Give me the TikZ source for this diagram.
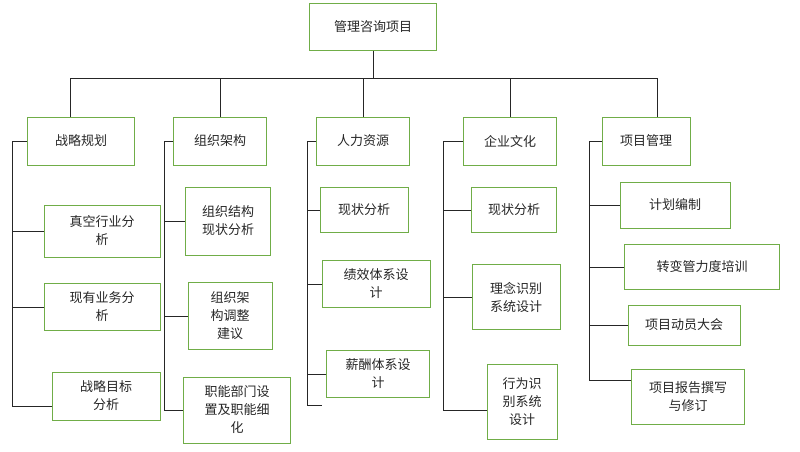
\documentclass[tikz,border=0pt]{standalone}
\usepackage{fontspec}
\newfontfamily\cjk{Noto Sans CJK SC}
\usetikzlibrary{positioning, calc}
\definecolor{boxgreen}{RGB}{112,173,71}

\begin{document}
\begin{tikzpicture}[
  x=1pt, y=-1pt,
  box/.style  = {draw=boxgreen, thick, align=center, inner sep=2pt,
                 font=\cjk\fontsize{13}{18}\selectfont, text=black!85},
  line/.style = {thick, black!85}
]
\useasboundingbox (0,0) rectangle (800,451);

%--------------------------------------------------
% root and categories
%--------------------------------------------------
\node[box, minimum width=127pt, minimum height=47pt] (root) at (373,27) {管理咨询项目};

\node[box, minimum width=107pt, minimum height=48pt] (c1) at (81,141) {战略规划};
\node[box, minimum width=93pt, minimum height=48pt] (c2) at (220,141) {组织架构};
\node[box, minimum width=93pt, minimum height=48pt] (c3) at (363,141) {人力资源};
\node[box, minimum width=93pt, minimum height=48pt] (c4) at (510,141) {企业文化};
\node[box, minimum width=88pt, minimum height=48pt] (c5) at (646,141) {项目管理};

%--------------------------------------------------
% children
%--------------------------------------------------
\node[box, minimum width=116pt, minimum height=52pt] (a1) at (102,231) {真空行业分\\析};
\node[box, minimum width=116pt, minimum height=47pt] (a2) at (102,307) {现有业务分\\析};
\node[box, minimum width=108pt, minimum height=48pt] (a3) at (106,396) {战略目标\\分析};

\node[box, minimum width=85pt, minimum height=68pt] (b1) at (228,221) {组织结构\\现状分析};
\node[box, minimum width=84pt, minimum height=67pt] (b2) at (230,316) {组织架\\构调整\\建议};
\node[box, minimum width=107pt, minimum height=66pt] (b3) at (237,410) {职能部门设\\置及职能细\\化};

\node[box, minimum width=88pt, minimum height=45pt] (d1) at (364,210) {现状分析};
\node[box, minimum width=108pt, minimum height=47pt] (d2) at (376,284) {绩效体系设\\计};
\node[box, minimum width=103pt, minimum height=47pt] (d3) at (378,374) {薪酬体系设\\计};

\node[box, minimum width=85pt, minimum height=45pt] (e1) at (514,210) {现状分析};
\node[box, minimum width=88pt, minimum height=65pt] (e2) at (516,297) {理念识别\\系统设计};
\node[box, minimum width=70pt, minimum height=75pt] (e3) at (522,402) {行为识\\别系统\\设计};

\node[box, minimum width=110pt, minimum height=46pt] (f1) at (675,205) {计划编制};
\node[box, minimum width=155pt, minimum height=45pt] (f2) at (702,267) {转变管力度培训};
\node[box, minimum width=112pt, minimum height=40pt] (f3) at (684,325) {项目动员大会};
\node[box, minimum width=113pt, minimum height=55pt] (f4) at (688,397) {项目报告撰写\\与修订};

%--------------------------------------------------
% trunk
%--------------------------------------------------
\coordinate (t1) at (70,78);
\coordinate (t5) at (657,78);
\draw[line] (t1) -- (t5);
\draw[line] (root.south) -- (root.south |- t1);
\draw[line] (t1) -- (t1 |- c1.north);
\draw[line] (c2.north |- t1) -- (c2.north);
\draw[line] (c3.north |- t1) -- (c3.north);
\draw[line] (c4.north |- t1) -- (c4.north);
\draw[line] (t5) -- (t5 |- c5.north);

%--------------------------------------------------
% rails
%--------------------------------------------------
\draw[line] (c1.west) -- (12,141) |- (a1.west);
\draw[line] (12,230) |- (a2.west);
\draw[line] (12,300) -- (12,406) -- (a3.west |- 0,406);

\draw[line] (c2.west) -- (164,141) |- (b1.west);
\draw[line] (164,220) |- (b2.west);
\draw[line] (164,300) |- (b3.west);

\draw[line] (c3.west) -- (307,141) |- (d1.west);
\draw[line] (307,210) |- (d2.west);
\draw[line] (307,284) |- (d3.west);
\draw[line] (307,374) -- (307,405) -- (322,405);

\draw[line] (c4.west) -- (443,141) |- (e1.west);
\draw[line] (443,210) |- (e2.west);
\draw[line] (443,297) -- (443,410) -- (e3.west |- 0,410);

\draw[line] (c5.west) -- (589,141) |- (f1.west);
\draw[line] (589,205) |- (f2.west);
\draw[line] (589,267) |- (f3.west);
\draw[line] (589,325) |- (f4.west |- 0,380);
\end{tikzpicture}
\end{document}
